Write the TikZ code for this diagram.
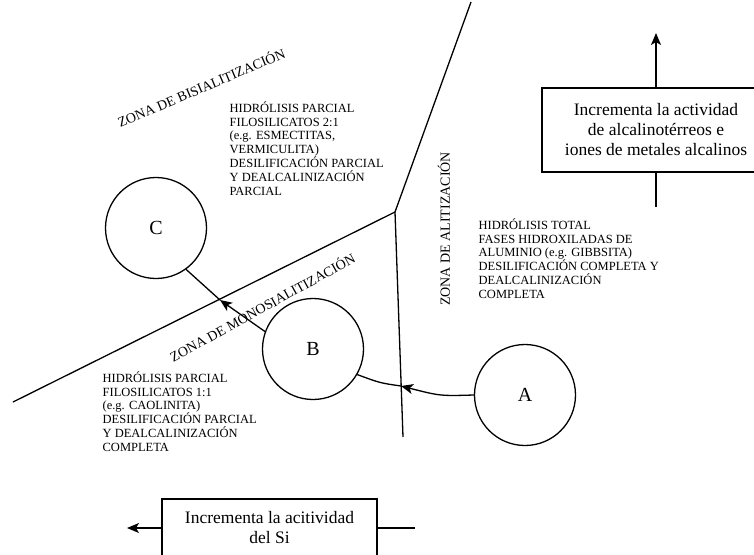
\documentclass[tikz,border=0pt]{standalone}
\usepackage{fontspec}
\setmainfont{Liberation Serif}
\usetikzlibrary{arrows.meta}

\begin{document}
\begin{tikzpicture}
  [x=1pt,y=-1pt,line width=1.3pt,
   campo/.style={circle,draw=black,minimum size=101pt,inner sep=0pt,font=\fontsize{20}{24}\selectfont},
   caja/.style={rectangle,draw=black,align=center,inner sep=0pt,font=\fontsize{17.5}{20}\selectfont},
   nota/.style={align=left,anchor=north west,inner sep=0pt,font=\fontsize{12.5}{13.8}\selectfont},
   rotulo/.style={inner sep=0pt,font=\fontsize{14}{15}\selectfont},
   punta/.style={-{Stealth[length=12pt,width=10pt,inset=3pt]}}]

  \useasboundingbox (0,0) rectangle (754,554);
  \clip (0,0) rectangle (754,554);

  % limites de las zonas
  \coordinate (jn) at (395,212);
  \coordinate (izq) at (13,402);
  \coordinate (arr) at (471,2);
  \coordinate (abj) at (403,437);
  \draw (izq) -- (jn) -- (arr);
  \draw (jn) -- (abj);

  \node[campo] (C) at (156,228) {C};
  \node[campo] (B) at (313,349) {B};
  \node[campo] (A) at (525,395) {A};

  \coordinate (xab) at (401,386);
  \coordinate (xbc) at (220,300);
  \draw[punta] (A.west) .. controls (440,396) .. (xab);
  \draw (xab) .. controls (380,383) .. (B.-30);
  \draw[punta] (B.160) -- (xbc);
  \draw (xbc) -- (C.-54);

  \node[rotulo,rotate=23] (zb) at (201,87) {ZONA DE BISIALITIZACIÓN};
  \node[rotulo,rotate=29] (zm) at (262,307) {ZONA DE MONOSIALITIZACIÓN};
  \node[rotulo,rotate=90] (za) at (444,229) {ZONA DE ALITIZACIÓN};

  \node[nota] (t21) at (229,101) {HIDRÓLISIS PARCIAL\\FILOSILICATOS 2:1\\(e.g. ESMECTITAS,\\VERMICULITA)\\DESILIFICACIÓN PARCIAL\\Y DEALCALINIZACIÓN\\PARCIAL};
  \node[nota] (tot) at (478,218) {HIDRÓLISIS TOTAL\\FASES HIDROXILADAS DE\\ALUMINIO (e.g. GIBBSITA)\\DESILIFICACIÓN COMPLETA Y\\DEALCALINIZACIÓN\\COMPLETA};
  \node[nota] (t11) at (102,371) {HIDRÓLISIS PARCIAL\\FILOSILICATOS 1:1\\(e.g. CAOLINITA)\\DESILIFICACIÓN PARCIAL\\Y DEALCALINIZACIÓN\\COMPLETA};

  % cajas de actividad
  \node[caja,minimum width=228pt,minimum height=84pt] (alc) at (656,130) {Incrementa la actividad\\de alcalinotérreos e\\iones de metales alcalinos};
  \coordinate (alc1) at (656,33);
  \coordinate (alc2) at (656,207);
  \draw[punta] (alc.north) -- (alc1);
  \draw (alc.south) -- (alc2);

  \node[caja,minimum width=215pt,minimum height=58pt] (si) at (269.5,528) {Incrementa la acitividad\\del Si};
  \coordinate (si1) at (127,528);
  \coordinate (si2) at (415,528);
  \draw[punta] (si.west) -- (si1);
  \draw (si.east) -- (si2);
\end{tikzpicture}
\end{document}
